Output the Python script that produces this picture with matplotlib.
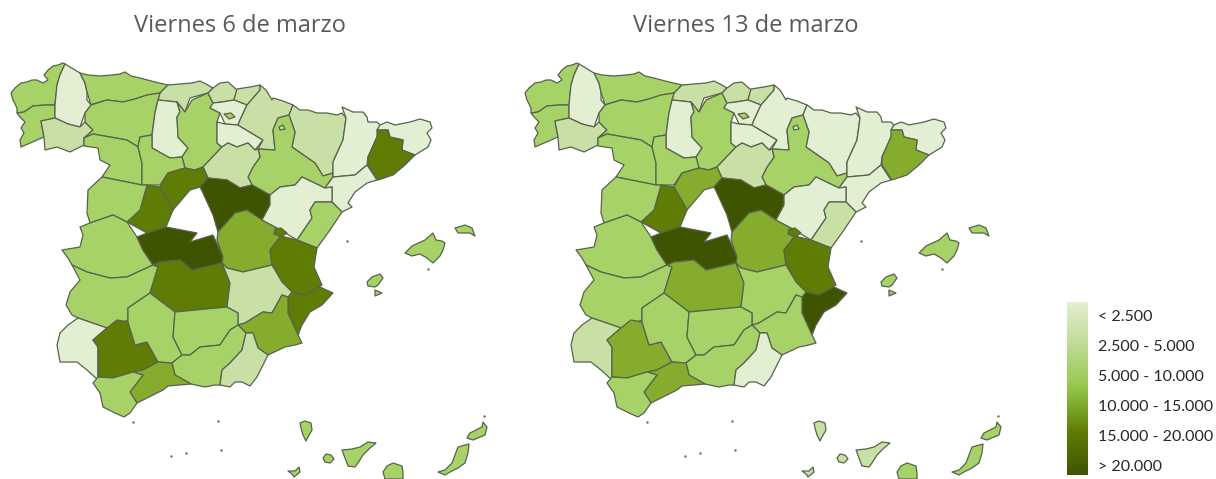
import matplotlib
matplotlib.use("Agg")
import matplotlib.pyplot as plt
from matplotlib.colors import LinearSegmentedColormap
import numpy as np

W, H = 1216, 479
OFFSET = 514  # el mapa de la derecha esta desplazado estos pixeles

titles = ["Viernes 6 de marzo", "Viernes 13 de marzo"]
legend_labels = ["< 2.500", "2.500 - 5.000", "5.000 - 10.000", "10.000 - 15.000", "15.000 - 20.000", "> 20.000"]
class_colors = ["#e3efd3", "#c8e0a6", "#a6d268", "#86ac2e", "#5f7d05", "#3f5400"]

# clase de cada provincia: nombre, viernes 6, viernes 13
provinces = ["Coruna", "Pontevedra", "Lugo", "Ourense", "Asturias", "Cantabria", "Leon", "Palencia",
             "Burgos", "Bizkaia", "Gipuzkoa", "Alava", "Rioja", "Navarra", "Huesca", "Zaragoza",
             "Lleida", "Girona", "Barcelona", "Tarragona", "Zamora", "Valladolid", "Soria", "Segovia",
             "Avila", "Salamanca", "Guadalajara", "Caceres", "Toledo", "Cuenca", "Teruel", "Castellon",
             "Valencia", "Ademuz", "Alicante", "Badajoz", "CiudadReal", "Albacete", "Murcia", "Huelva",
             "Sevilla", "Cordoba", "Jaen", "Granada", "Almeria", "Malaga", "Cadiz", "Mallorca",
             "Menorca", "Ibiza", "Formentera", "LaPalma", "Gomera", "Tenerife", "Hierro", "GranCanaria",
             "Fuerteventura", "Lanzarote", "Trevino", "Petilla"]
class_mar6 = [2, 2, 0, 1, 2, 1, 2, 0,
              2, 1, 1, 0, 0, 1, 1, 2,
              0, 0, 4, 0, 2, 2, 1, 4,
              4, 2, 5, 2, 5, 3, 0, 2,
              4, 4, 4, 2, 4, 1, 3, 0,
              4, 2, 2, 2, 1, 3, 2, 2,
              2, 2, 2, 2, 2, 2, 2, 2,
              2, 2, 2, 1]
class_mar13 = [2, 2, 0, 1, 2, 1, 2, 0,
               2, 1, 1, 0, 0, 0, 0, 2,
               0, 0, 3, 0, 2, 2, 1, 3,
               4, 2, 5, 2, 5, 3, 0, 1,
               4, 4, 5, 2, 3, 2, 2, 1,
               3, 2, 2, 2, 0, 3, 2, 2,
               2, 2, 2, 1, 1, 1, 1, 2,
               2, 2, 2, 0]

# contornos, en pixeles del mapa izquierdo
Coruna = [(65,64),(63,63),(58,65),(53,66),(48,70),(44,75),(48,80),(43,83),(37,80),(32,80),(27,82),(21,83),(15,88),(11,93),(13,100),(17,108),(17,113),(24,112),(33,106),(45,105),(55,105),(56,95),(57,85),(60,75)]
Pontevedra = [(17,113),(24,112),(33,106),(45,105),(55,105),(55,118),(41,121),(44,137),(21,147),(20,140),(24,133),(21,128),(25,122),(20,117)]
Lugo = [(65,64),(70,67),(75,70),(80,73),(85,83),(87,92),(87,100),(91,105),(85,113),(80,127),(68,124),(55,118),(55,105),(56,95),(57,85),(60,75)]
Ourense = [(41,121),(55,118),(68,124),(80,127),(85,122),(93,130),(84,138),(84,145),(70,152),(57,147),(45,150),(44,137)]
Asturias = [(80,73),(88,75),(100,76),(112,75),(120,74),(125,72),(131,76),(140,78),(155,82),(168,85),(160,93),(147,95),(135,99),(123,102),(107,100),(93,104),(91,105),(87,92),(85,83)]
Cantabria = [(168,85),(180,84),(192,83),(200,81),(206,84),(213,88),(208,93),(190,98),(185,112),(177,102),(158,100),(160,93)]
Leon = [(91,105),(107,100),(123,102),(135,99),(147,95),(160,93),(158,100),(155,113),(152,135),(140,137),(138,147),(127,140),(93,134),(84,138),(93,130),(85,122),(85,113)]
Palencia = [(158,100),(177,102),(180,112),(177,117),(178,137),(188,148),(182,157),(170,158),(152,148),(152,135),(155,113)]
Burgos = [(177,102),(185,112),(192,100),(208,93),(213,103),(210,108),(220,113),(217,122),(217,143),(222,147),(203,167),(195,170),(185,168),(182,157),(188,148),(178,137),(177,117),(180,112)]
Bizkaia = [(208,93),(213,88),(220,83),(228,82),(237,90),(234,100),(222,102),(213,103)]
Gipuzkoa = [(237,89),(250,87),(260,85),(260,90),(247,105),(234,100)]
Alava = [(213,103),(222,102),(234,100),(247,105),(240,120),(238,125),(225,124),(220,113),(210,108)]
Rioja = [(217,122),(225,124),(238,125),(263,140),(255,150),(248,143),(237,147),(228,143),(222,147),(217,143)]
Navarra = [(260,85),(266,90),(272,100),(273,98),(283,101),(293,105),(289,115),(278,118),(273,130),(275,150),(258,149),(263,140),(238,125),(240,120),(247,105),(260,90)]
Huesca = [(293,105),(300,110),(308,110),(317,113),(327,113),(337,115),(342,113),(346,118),(343,140),(333,162),(333,173),(323,176),(315,163),(292,147),(295,132),(289,115)]
Zaragoza = [(289,115),(278,118),(273,130),(275,150),(258,149),(260,157),(253,167),(248,177),(252,185),(270,195),(280,187),(295,185),(302,177),(325,188),(333,177),(333,173),(323,176),(315,163),(292,147),(295,132)]
Lleida = [(342,107),(353,112),(363,112),(367,117),(368,122),(377,122),(380,125),(377,137),(368,157),(367,165),(355,175),(333,177),(333,162),(343,140),(346,118)]
Girona = [(380,125),(387,122),(395,125),(410,122),(420,119),(430,122),(432,128),(427,133),(431,140),(428,147),(415,155),(402,150),(403,140),(390,137),(388,130),(377,130)]
Barcelona = [(377,130),(388,130),(390,137),(403,140),(402,150),(415,155),(405,165),(393,175),(378,180),(368,165),(368,157),(377,137)]
Tarragona = [(333,177),(355,175),(367,165),(377,180),(367,183),(355,192),(348,203),(352,207),(342,212),(332,202),(332,187),(325,188)]
Zamora = [(84,138),(93,134),(127,140),(138,147),(142,163),(142,185),(127,182),(102,177),(110,165),(100,160),(98,148),(84,146)]
Valladolid = [(140,137),(152,135),(152,148),(170,158),(182,157),(185,168),(168,173),(160,185),(142,185),(142,163),(138,147)]
Soria = [(222,147),(228,143),(237,147),(248,143),(255,150),(258,149),(260,157),(253,167),(248,177),(252,185),(240,188),(227,180),(208,178),(203,167)]
Segovia = [(168,173),(185,168),(195,170),(203,167),(208,178),(200,187),(190,190),(173,210),(160,187)]
Avila = [(147,185),(160,187),(173,210),(166,227),(147,233),(127,222),(140,210)]
Salamanca = [(102,177),(127,182),(142,185),(147,185),(140,210),(127,222),(113,215),(90,223),(87,213),(88,190)]
Guadalajara = [(208,178),(227,180),(240,188),(252,185),(270,195),(270,205),(262,220),(247,210),(235,213),(218,232),(213,215),(203,193),(200,187)]
Caceres = [(90,223),(113,215),(127,222),(137,237),(143,250),(153,265),(127,277),(110,278),(87,272),(72,265),(68,258),(62,250),(80,247),(83,235),(80,227)]
Toledo = [(137,237),(147,233),(166,227),(197,233),(190,242),(213,235),(223,257),(222,263),(192,270),(180,260),(160,262),(153,265),(143,250)]
Cuenca = [(218,232),(235,213),(247,210),(262,220),(277,228),(281,236),(270,250),(272,265),(243,272),(227,268),(222,263),(223,257),(217,240)]
Teruel = [(270,195),(280,187),(295,185),(302,177),(325,188),(332,187),(332,202),(315,202),(310,210),(312,218),(297,240),(277,228),(262,220),(270,205)]
Castellon = [(315,202),(332,202),(342,212),(330,230),(317,248),(297,240),(312,218),(310,210)]
Valencia = [(281,236),(297,240),(317,248),(314,267),(322,285),(305,295),(292,292),(282,282),(272,265),(270,250)]
Ademuz = [(275,229),(281,228),(287,233),(281,237),(274,234)]
Alicante = [(292,292),(305,295),(320,287),(333,293),(322,305),(310,312),(302,325),(298,335),(288,313),(288,297)]
Badajoz = [(72,265),(87,272),(110,278),(127,277),(153,265),(158,267),(150,293),(128,308),(128,320),(107,328),(78,318),(72,315),(66,305),(70,292),(80,280)]
CiudadReal = [(153,265),(160,262),(180,260),(192,270),(222,263),(230,283),(227,307),(175,312),(150,293),(158,267)]
Albacete = [(222,263),(227,268),(243,272),(272,265),(282,282),(292,292),(288,297),(282,295),(272,313),(263,312),(245,323),(238,325),(238,313),(227,307),(230,283)]
Murcia = [(245,323),(263,312),(272,313),(282,295),(288,297),(288,313),(298,335),(302,343),(295,345),(285,347),(268,355),(258,348),(253,333),(246,333),(238,325)]
Huelva = [(78,318),(107,328),(93,340),(98,347),(98,380),(87,370),(77,362),(60,362),(57,345),(60,333),(68,325)]
Sevilla = [(107,328),(117,320),(128,322),(135,345),(147,342),(158,362),(143,370),(133,372),(113,378),(98,377),(98,347),(93,340)]
Cordoba = [(150,293),(175,312),(173,337),(182,355),(172,363),(158,362),(147,342),(135,345),(128,322),(128,308)]
Jaen = [(175,312),(227,307),(238,313),(238,325),(230,330),(220,345),(200,347),(190,355),(182,355),(173,337)]
Granada = [(172,363),(182,355),(190,355),(200,347),(220,345),(230,330),(238,325),(246,333),(242,350),(230,363),(222,370),(220,385),(215,385),(205,387),(191,384),(175,375)]
Almeria = [(246,333),(253,333),(258,348),(268,355),(262,367),(257,377),(250,386),(242,382),(235,382),(230,387),(220,385),(222,370),(230,363),(242,350)]
Malaga = [(133,372),(143,370),(158,362),(172,363),(175,375),(191,384),(168,386),(163,390),(153,395),(137,403),(130,392),(143,375)]
Cadiz = [(93,383),(98,377),(113,378),(133,372),(143,375),(130,392),(137,403),(130,413),(124,417),(115,413),(103,407),(100,393)]
Mallorca = [(405,253),(412,246),(425,240),(433,233),(436,240),(442,241),(445,243),(443,250),(440,256),(433,263),(427,258),(420,254),(412,256)]
Menorca = [(455,228),(465,225),(472,228),(475,236),(470,233),(458,233)]
Ibiza = [(367,282),(372,277),(380,274),(383,278),(378,285),(375,287),(368,286)]
Formentera = [(375,290),(382,293),(375,296)]
LaPalma = [(300,423),(305,421),(311,423),(312,430),(308,437),(306,441),(303,435),(301,428)]
Gomera = [(323,458),(326,454),(331,455),(334,459),(330,463),(325,462)]
Tenerife = [(342,450),(352,449),(360,447),(368,442),(376,443),(370,448),(363,455),(358,463),(355,467),(348,466),(345,458)]
Hierro = [(288,471),(295,471),(299,467),(300,472),(294,477),(292,474)]
GranCanaria = [(383,472),(387,466),(393,463),(402,466),(403,473),(403,479),(385,479)]
Fuerteventura = [(438,472),(445,470),(452,463),(458,447),(469,444),(468,453),(465,463),(458,468),(450,472),(445,475)]
Lanzarote = [(467,438),(470,433),(482,427),(483,422),(487,427),(485,435),(473,440)]
Trevino = [(224,114),(231,113),(235,117),(229,119)]
Petilla = [(279,127),(283,125),(285,129),(280,130)]

# puntitos sueltos: islotes, Ceuta y Melilla
specks_x = [133, 221, 428, 347, 484, 218, 171, 186]
specks_y = [422, 450, 269, 241, 416, 421, 456, 453]

outlines = [globals()[name] for name in provinces]


def draw_map(ax, classes, title, title_x):
    for outline, k in zip(outlines, classes):
        xs = [p[0] for p in outline]
        ys = [p[1] for p in outline]
        ax.fill(xs, ys, facecolor=class_colors[k], edgecolor="#56634c", linewidth=0.9, joinstyle="round")
    ax.scatter(specks_x, specks_y, s=3, color="#6b6b6b", linewidths=0)
    ax.set_xlim(0, OFFSET)
    ax.set_ylim(H, 0)
    ax.axis("off")
    ax.text(title_x, 26, title, fontsize=17, color="#595959", family="Open Sans", ha="center", va="center")


fig = plt.figure(figsize=(W / 100, H / 100), dpi=100)
ax1 = fig.add_axes([0, 0, OFFSET / W, 1])
ax2 = fig.add_axes([OFFSET / W, 0, OFFSET / W, 1])
draw_map(ax1, class_mar6, titles[0], 240)
draw_map(ax2, class_mar13, titles[1], 232)

# leyenda: barra con degradado
cmap = LinearSegmentedColormap.from_list("verdes", [(0, "#e3efd3"), (0.25, "#bfdc94"), (0.5, "#93c648"), (0.75, "#5f7d05"), (1, "#3f5400")])
cax = fig.add_axes([1067 / W, 1 - 475 / H, 21 / W, 173 / H])
cax.imshow(np.linspace(0, 1, 256).reshape(-1, 1), cmap=cmap, aspect="auto")
cax.axis("off")

for label, y in zip(legend_labels, [317, 347, 377, 407, 437, 467]):
    fig.text(1098 / W, 1 - y / H, label, fontsize=11.5, color="#262626", family="Lato", ha="left", va="center")

fig.savefig("out.png", dpi=100)
